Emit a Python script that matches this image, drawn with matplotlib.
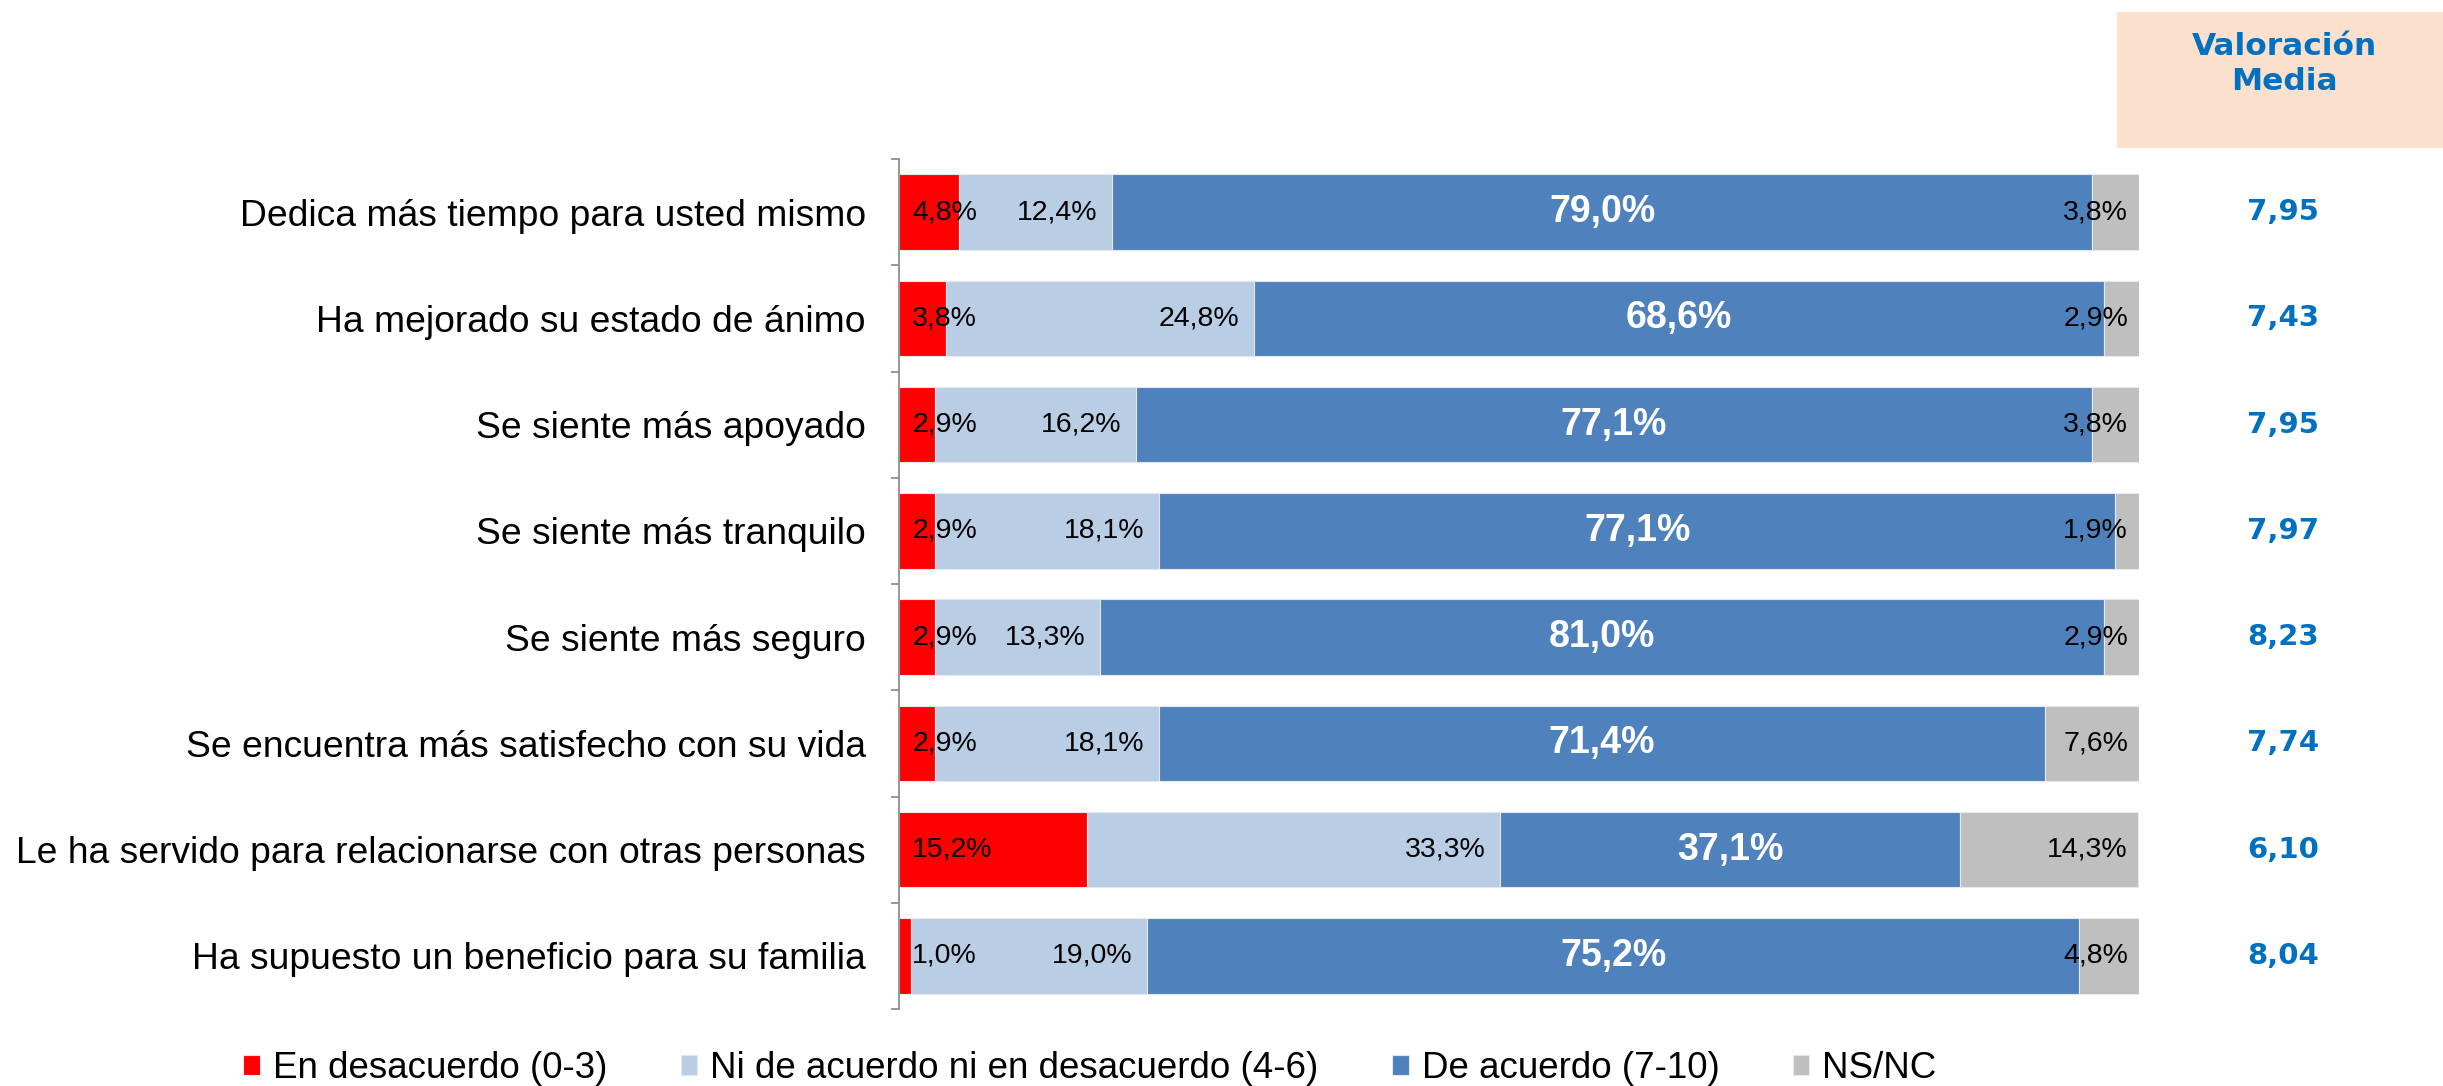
import matplotlib
matplotlib.use('Agg')
import matplotlib.pyplot as plt
import matplotlib.patches as mpatches
from matplotlib.transforms import blended_transform_factory
import numpy as np

categorias = ['Dedica más tiempo para usted mismo',
	'Ha mejorado su estado de ánimo',
	'Se siente más apoyado',
	'Se siente más tranquilo',
	'Se siente más seguro',
	'Se encuentra más satisfecho con su vida',
	'Le ha servido para relacionarse con otras personas',
	'Ha supuesto un beneficio para su familia']

desacuerdo = [4.8, 3.8, 2.9, 2.9, 2.9, 2.9, 15.2, 1.0]
ni_ni = [12.4, 24.8, 16.2, 18.1, 13.3, 18.1, 33.3, 19.0]
acuerdo = [79.0, 68.6, 77.1, 77.1, 81.0, 71.4, 37.1, 75.2]
nsnc = [3.8, 2.9, 3.8, 1.9, 2.9, 7.6, 14.3, 4.8]
valoracion = ['7,95', '7,43', '7,95', '7,97', '8,23', '7,74', '6,10', '8,04']

series = ['En desacuerdo (0-3)', 'Ni de acuerdo ni en desacuerdo (4-6)', 'De acuerdo (7-10)', 'NS/NC']
colores = ['#FF0000', '#B9CDE5', '#4F81BD', '#BFBFBF']

def pct(v):
	return ('%.1f%%' % v).replace('.', ',')

plt.rcParams['font.family'] = ['Liberation Sans', 'DejaVu Sans']

W, H = 2443, 1086
fig = plt.figure(figsize=(W/100., H/100.), dpi=100)
ax = fig.add_axes([899./W, 1-1009./H, 1240./W, 850./H])

y = np.arange(len(categorias))
left = np.zeros(len(categorias))
datos = [desacuerdo, ni_ni, acuerdo, nsnc]
for vals, col, lab in zip(datos, colores, series):
	ax.barh(y, vals, left=left, height=0.71, color=col, label=lab,
		edgecolor='#E4E9F0', linewidth=0.8)
	left = left + np.array(vals)

# etiquetas de datos
for i in range(len(categorias)):
	ax.annotate(pct(desacuerdo[i]), (0, y[i]), xytext=(9.5, 0), textcoords='offset points',
		ha='left', va='center', fontsize=20.5, color='black')
	fin = desacuerdo[i] + ni_ni[i]
	ax.annotate(pct(ni_ni[i]), (fin, y[i]), xytext=(-10.5, 0), textcoords='offset points',
		ha='right', va='center', fontsize=20.5, color='black')
	ax.text(fin + acuerdo[i]/2., y[i], pct(acuerdo[i]), ha='center', va='center',
		fontsize=27, fontweight='bold', color='white')
	ax.annotate(pct(nsnc[i]), (100, y[i]), xytext=(-8, 0), textcoords='offset points',
		ha='right', va='center', fontsize=20.5, color='black')

ax.set_xlim(0, 100)
ax.set_ylim(len(categorias)-0.5, -0.5)
ax.set_xticks([])
ax.set_yticks(y)
ax.set_yticklabels(categorias, fontsize=26.8)
ax.set_yticks(np.arange(-0.5, len(categorias)), minor=True)
ax.tick_params(axis='y', which='major', length=0, pad=24)
ax.tick_params(axis='y', which='minor', length=6, width=1.2, color='#868686')
for s in ['top', 'right', 'bottom']:
	ax.spines[s].set_visible(False)
ax.spines['left'].set_color('#868686')
ax.spines['left'].set_linewidth(1.2)

# columna de valoracion media
fig.patches.append(mpatches.Rectangle((2117./W, 1-148./H), 326./W, 136./H,
	transform=fig.transFigure, facecolor='#FBE0CD', edgecolor='none'))
fig.text(2284./W, 1-64./H, 'Valoración\nMedia', ha='center', va='center',
	fontsize=22.5, fontweight='bold', color='#0070C0', family='DejaVu Sans', linespacing=1.25)
tr = blended_transform_factory(fig.transFigure, ax.transData)
for i, v in enumerate(valoracion):
	fig.text(2283./W, y[i], v, transform=tr, ha='center', va='center',
		fontsize=21, fontweight='bold', color='#0070C0', family='DejaVu Sans')

fig.legend(loc='center', bbox_to_anchor=(1090./W, 1-1069./H), ncol=4, frameon=False,
	fontsize=26.5, handlelength=0.45, handleheight=0.45, handletextpad=0.35,
	columnspacing=2.0, borderpad=0, borderaxespad=0)

fig.savefig('out.png', dpi=100)
